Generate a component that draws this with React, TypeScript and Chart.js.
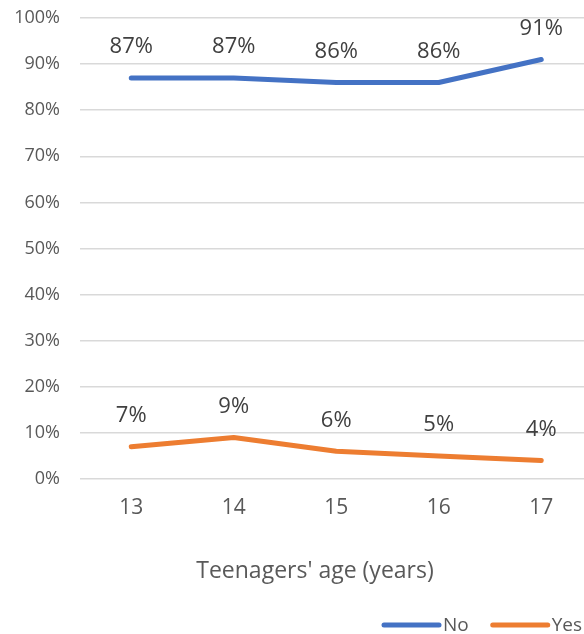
import React, { useEffect, useRef } from "react";
import { Chart, registerables } from "chart.js";

Chart.register(...registerables);

const categories = ["13", "14", "15", "16", "17"];
const noValues = [87, 87, 86, 86, 91];
const yesValues = [7, 9, 6, 5, 4];
const seriesNames = ["No", "Yes"];
const xTitle = "Teenagers' age (years)";

const FONT = "'Open Sans', 'DejaVu Sans', sans-serif";
const TEXT = "#595959";

const labelPlugin = {
  id: "pointLabels",
  afterDatasetsDraw(chart: any) {
    const ctx = chart.ctx;
    ctx.save();
    ctx.font = `22px ${FONT}`;
    ctx.fillStyle = "#404040";
    ctx.textAlign = "center";
    ctx.textBaseline = "middle";
    chart.data.datasets.forEach((ds: any, i: number) => {
      const meta = chart.getDatasetMeta(i);
      meta.data.forEach((el: any, j: number) => {
        ctx.fillText(ds.data[j] + "%", el.x, el.y - 31);
      });
    });
    ctx.restore();
  },
};

const extrasPlugin = {
  id: "extras",
  afterDraw(chart: any) {
    const ctx = chart.ctx;
    const area = chart.chartArea;
    ctx.save();
    ctx.font = `23px ${FONT}`;
    ctx.fillStyle = TEXT;
    ctx.textAlign = "center";
    ctx.textBaseline = "middle";
    ctx.fillText(xTitle, area.left + 235, area.bottom + 92);
    ctx.font = `19px ${FONT}`;
    ctx.textAlign = "left";
    let x = area.left + 304;
    const y = area.bottom + 146;
    chart.data.datasets.forEach((ds: any) => {
      ctx.strokeStyle = ds.borderColor;
      ctx.lineWidth = 5;
      ctx.lineCap = "round";
      ctx.beginPath();
      ctx.moveTo(x, y);
      ctx.lineTo(x + 55, y);
      ctx.stroke();
      ctx.fillStyle = TEXT;
      ctx.fillText(ds.label, x + 59, y + 1);
      x += 59 + ctx.measureText(ds.label).width + 24;
    });
    ctx.restore();
  },
};

export default function App() {
  const ref = useRef<HTMLCanvasElement>(null);
  useEffect(() => {
    if (!ref.current) return;
    const chart = new Chart(ref.current, {
      type: "line",
      data: {
        labels: categories,
        datasets: [
          {
            label: seriesNames[0],
            data: noValues,
            borderColor: "#4472C4",
            backgroundColor: "#4472C4",
          },
          {
            label: seriesNames[1],
            data: yesValues,
            borderColor: "#ED7D31",
            backgroundColor: "#ED7D31",
          },
        ],
      },
      options: {
        responsive: false,
        animation: false,
        layout: { padding: { top: 18, left: 0, right: 7.5, bottom: 0 } },
        elements: {
          line: {
            borderWidth: 5,
            tension: 0,
            borderCapStyle: "round",
            borderJoinStyle: "round",
          },
          point: { radius: 0, hoverRadius: 0 },
        },
        plugins: {
          legend: { display: false },
          tooltip: { enabled: false },
        },
        scales: {
          x: {
            offset: true,
            grid: { display: false },
            border: { display: false },
            ticks: {
              color: TEXT,
              font: { family: FONT, size: 21 },
              padding: 8,
            },
            afterFit: (s: any) => {
              s.height = 155;
              s.paddingLeft = 0;
              s.paddingRight = 0;
            },
          },
          y: {
            min: 0,
            max: 100,
            border: { display: false },
            grid: { color: "#d9d9d9", lineWidth: 1.5, drawTicks: false },
            ticks: {
              stepSize: 10,
              color: TEXT,
              font: { family: FONT, size: 18 },
              padding: 20,
              callback: (v: any) => v + "%",
            },
            afterFit: (s: any) => {
              s.width = 80;
              s.paddingTop = 0;
              s.paddingBottom = 0;
            },
          },
        },
      },
      plugins: [labelPlugin, extrasPlugin],
    });
    return () => chart.destroy();
  }, []);
  return (
    <div
      style={{
        position: "fixed",
        left: 0,
        top: 0,
        width: 584,
        height: 634,
        overflow: "hidden",
        background: "#fff",
      }}
    >
      <canvas ref={ref} width={600} height={634} />
    </div>
  );
}
